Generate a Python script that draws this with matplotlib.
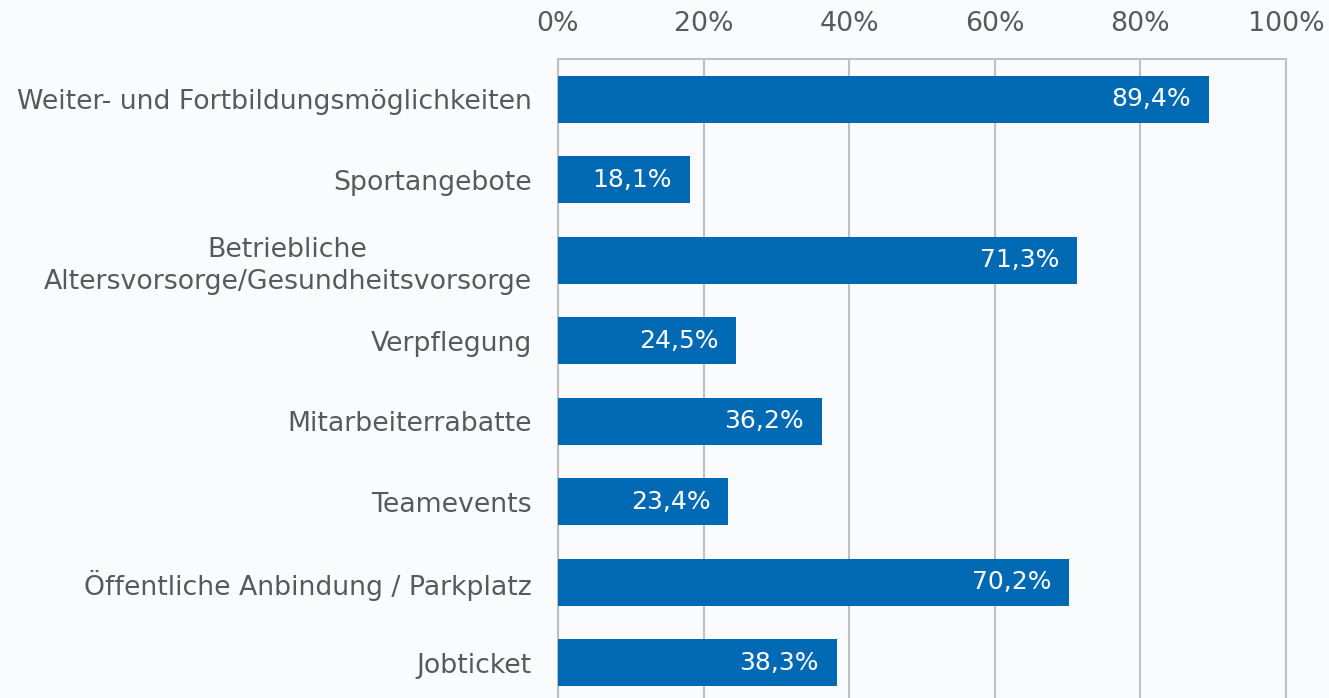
import matplotlib.pyplot as plt
from matplotlib.ticker import FuncFormatter

categories = [
    "Weiter- und Fortbildungsmöglichkeiten",
    "Sportangebote",
    "Betriebliche\nAltersvorsorge/Gesundheitsvorsorge",
    "Verpflegung",
    "Mitarbeiterrabatte",
    "Teamevents",
    "Öffentliche Anbindung / Parkplatz",
    "Jobticket",
]
values = [89.4, 18.1, 71.3, 24.5, 36.2, 23.4, 70.2, 38.3]

bar_color = "#0069b4"
text_color = "#595959"
grid_color = "#c0c0c0"
bg = "#fafbfd"

fig = plt.figure(figsize=(13.29, 6.98), dpi=100, facecolor=bg)
ax = fig.add_axes([558 / 1329, -5 / 698, (1286 - 558) / 1329, (703 - 59) / 698])
ax.set_facecolor(bg)

ypos = list(range(len(categories)))
bars = ax.barh(ypos, values, height=0.58, color=bar_color, zorder=3)

ax.set_xlim(0, 100)
ax.set_ylim(len(categories) - 0.5, -0.5)
ax.set_xticks([0, 20, 40, 60, 80, 100])
ax.xaxis.set_major_formatter(FuncFormatter(lambda v, p: f"{v:.0f}%"))
ax.xaxis.tick_top()
ax.tick_params(axis="x", length=0, pad=16, labelsize=19.3, labelcolor=text_color)
ax.set_yticks(ypos)
ax.set_yticklabels(categories)
ax.tick_params(axis="y", length=0, pad=19, labelsize=19.3, labelcolor=text_color)
for lbl in ax.get_yticklabels():
    lbl.set_multialignment("center")
    lbl.set_linespacing(1.3)

ax.grid(axis="x", color=grid_color, linewidth=1.5, zorder=0)
for s in ["top", "left", "right"]:
    ax.spines[s].set_color(grid_color)
    ax.spines[s].set_linewidth(1.5)
ax.spines["bottom"].set_visible(False)

for b, v in zip(bars, values):
    ax.annotate(f"{v:.1f}%".replace(".", ","), xy=(v, b.get_y() + b.get_height() / 2),
                xytext=(-13, 0), textcoords="offset points", ha="right", va="center",
                color="white", fontsize=18, zorder=4)

plt.savefig("out.png", dpi=100, facecolor=bg)
